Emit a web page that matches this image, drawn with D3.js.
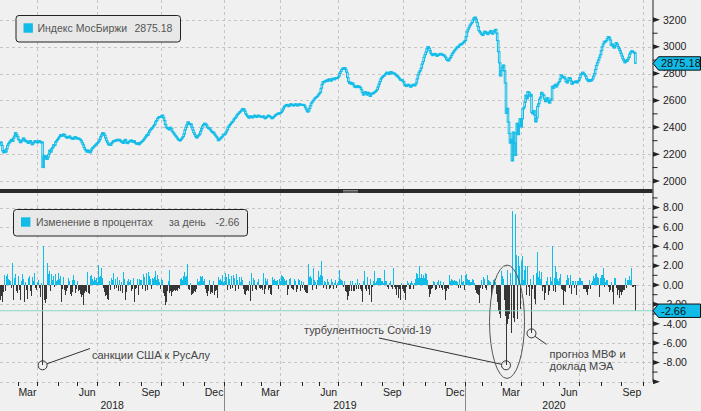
<!DOCTYPE html>
<html><head><meta charset="utf-8">
<script src="https://cdn.jsdelivr.net/npm/d3@7"></script>
<style>html,body{margin:0;padding:0;background:#f0f0f0;}svg{display:block;font-family:"Liberation Sans",Arial,sans-serif;}</style>
</head><body><svg id="chart" width="701" height="411"></svg>
<script>
// ---------- DATA ----------
const monthKeys = ["2018-02","2018-03","2018-04","2018-05","2018-06","2018-07","2018-08","2018-09","2018-10","2018-11","2018-12",
"2019-01","2019-02","2019-03","2019-04","2019-05","2019-06","2019-07","2019-08","2019-09","2019-10","2019-11","2019-12",
"2020-01","2020-02","2020-03","2020-04","2020-05","2020-06","2020-07","2020-08","2020-09"];
const tradingDays = [18,20,21,20,20,22,23,20,23,21,21, 17,20,20,22,18,19,23,22,21,23,20,21, 17,19,21,22,17,20,22,21,22];
const monthNames = ["Jan","Feb","Mar","Apr","May","Jun","Jul","Aug","Sep","Oct","Nov","Dec"];
const labelledMonths = [3,6,9,12];

const close2018 = [
2290,2265,2225,2210,2230,2215,2240,2265,2280,2290,2300,2310,2295,2320,2335,2360,2345,2330,
2310,2300,2285,2295,2305,2320,2310,2295,2300,2290,2280,2295,2300,2285,2270,2285,2290,2300,2295,2285,
2290,2300,2295,2285,2290,2100,2185,2170,2190,2160,2175,2200,2230,2215,2240,2250,2270,2265,2290,2300,2310,
2320,2330,2345,2340,2335,2350,2345,2330,2325,2320,2330,2335,2325,2315,2320,2310,2325,2330,2320,2315,
2320,2315,2310,2300,2285,2270,2250,2235,2225,2215,2230,2220,2210,2225,2240,2250,2255,2265,2270,2280,
2285,2295,2310,2330,2345,2360,2355,2340,2320,2300,2285,2270,2275,2265,2280,2290,2300,2295,2305,2300,2310,2300,
2310,2300,2290,2295,2280,2300,2310,2290,2280,2285,2295,2300,2305,2295,2290,2300,2285,2280,2275,2285,2270,2280,2290,
2295,2300,2310,2320,2330,2345,2340,2360,2375,2385,2390,2400,2410,2420,2440,2450,2465,2475,2480,2475,
2485,2490,2470,2450,2420,2400,2390,2395,2380,2400,2390,2370,2360,2350,2340,2330,2320,2310,2305,2300,2310,2320,2330,
2350,2380,2400,2420,2440,2430,2420,2425,2400,2380,2360,2345,2330,2320,2335,2340,2350,2370,2390,2410,2420,
2430,2425,2415,2400,2390,2395,2380,2370,2360,2365,2350,2340,2330,2320,2300,2310,2315,2325,2330,2345,2350];
const close2019 = [
2350,2365,2380,2400,2410,2420,2430,2440,2445,2460,2470,2475,2490,2500,2505,2515,2520,
2530,2540,2535,2520,2500,2490,2480,2470,2475,2485,2480,2470,2480,2490,2485,2475,2480,2490,2485,2480,
2480,2475,2485,2470,2465,2475,2480,2490,2485,2480,2470,2465,2475,2480,2490,2495,2500,2505,2500,2510,
2510,2520,2535,2550,2560,2565,2570,2560,2555,2565,2575,2570,2565,2560,2570,2575,2565,2560,2570,2575,2565,2570,
2565,2570,2560,2545,2530,2515,2520,2540,2560,2580,2590,2600,2610,2620,2625,2630,2640,2650,
2660,2690,2720,2740,2735,2745,2750,2740,2755,2760,2750,2745,2760,2765,2755,2760,2770,2765,2770,
2780,2800,2815,2830,2840,2835,2845,2830,2810,2770,2740,2725,2735,2720,2730,2715,2700,2705,2695,2710,2700,2705,2695,
2680,2660,2640,2650,2665,2655,2640,2660,2650,2630,2645,2655,2650,2660,2665,2670,2680,2700,2720,2740,2760,2770,
2780,2785,2790,2800,2810,2805,2795,2800,2815,2810,2800,2805,2800,2790,2785,2780,2770,2760,2750,2755,2745,
2740,2720,2710,2705,2715,2720,2710,2700,2705,2715,2720,2710,2715,2730,2760,2790,2810,2820,2840,2870,2890,2920,2940,
2960,2985,3000,2990,2970,2950,2940,2935,2945,2950,2940,2930,2935,2945,2940,2950,2945,2935,2940,2930,
2920,2905,2900,2895,2910,2920,2935,2950,2960,2970,2980,2990,3000,2995,3010,3020,3015,3025,3030,3040,3046];
const close2020 = [
3075,3110,3130,3145,3160,3170,3180,3200,3215,3220,3205,3180,3150,3120,3110,3100,3090,
3085,3100,3115,3110,3100,3090,3105,3110,3120,3100,3095,3110,3120,3129,3101,3045,2963,2880,2782,
2821,2846,2863,2820,2730,2503,2541,2439,2354,2283,2310,2150,2364,2284,2190,2357,2430,2345,2415,2464,2402,
2462,2536,2549,2587,2639,2612,2665,2660,2630,2645,2510,2500,2525,2490,2440,2470,2555,2575,2610,2625,2660,2645,
2640,2610,2590,2600,2620,2595,2580,2600,2610,2705,2690,2710,2720,2700,2715,2730,2740,
2760,2790,2780,2770,2775,2760,2740,2730,2750,2770,2765,2745,2720,2730,2740,2735,2745,2730,2740,2750,
2770,2790,2800,2810,2800,2790,2780,2760,2750,2740,2755,2745,2750,2760,2780,2800,2830,2860,2880,2900,2920,2940,
2970,3000,3020,3040,3035,3045,3060,3075,3070,3050,3010,3020,3000,2990,3010,3030,3020,3000,2985,2970,2950,
2930,2910,2895,2880,2900,2890,2905,2920,2945,2960,2970,2965,2958,2954,2875.18];

const change2018 = [
-1.6,-1.1,-1.8,-0.7,1.0,-0.6,0.9,1.1,0.6,0.5,0.4,-0.3,2.3,-1.5,0.7,1.1,-0.6,-0.8,
0.9,-0.5,-1.5,0.4,1.1,0.6,-0.4,-1.8,0.3,-0.5,-1.4,0.7,0.9,-0.6,-1.1,0.8,0.4,1.2,-0.3,-0.5,
0.3,0.5,-0.3,-1.2,0.2,-8.3,4.0,-1.6,-1.9,-1.4,2.3,1.1,1.4,-0.6,1.1,0.5,0.9,-0.2,1.1,0.4,0.5,
1.2,0.6,0.9,-1.8,-0.4,0.8,-0.5,-1.0,-0.6,-0.3,0.7,0.4,-0.9,-1.1,0.5,-0.7,1.0,0.5,-0.8,-0.4,
0.4,-0.6,-0.5,-0.9,-1.2,-1.0,-2.1,-0.8,-0.6,-0.7,1.3,-0.8,-0.9,0.9,1.0,0.6,0.4,0.8,0.5,0.7,
0.3,2.1,0.8,0.9,1.8,0.7,-0.3,-0.7,-1.1,-1.0,-1.4,-1.6,0.4,-0.5,0.7,0.5,1.2,-0.4,0.6,-0.3,0.8,-0.6,
0.5,-0.5,-0.6,0.3,-0.8,1.3,0.6,-1.5,-0.7,0.4,0.6,0.3,0.5,-0.6,-0.4,0.7,-1.8,-0.4,-0.3,0.6,-1.0,0.6,0.5,
0.5,-0.4,1.1,0.8,-0.6,1.2,-0.5,1.3,0.9,0.6,-0.4,0.7,0.6,0.8,1.4,0.5,1.0,0.6,0.3,-0.4,
0.6,0.5,-0.8,-1.1,-2.1,-1.8,-0.6,0.4,-0.8,1.5,-0.6,-1.1,-0.7,-0.6,-0.5,-0.6,-0.5,-0.6,-0.3,-0.4,0.6,0.7,0.5,
0.9,1.3,0.8,0.9,2.2,-0.4,-0.5,0.2,-1.0,-0.9,-0.8,-0.6,-0.7,-0.4,0.6,0.3,0.4,0.9,0.8,0.9,0.4,
0.6,-0.4,-0.8,-1.1,-0.6,0.5,-0.9,-0.7,-0.8,0.4,-1.0,-0.6,-0.5,-0.7,-1.3,0.8,0.5,0.6,0.4,1.0,0.3];
const change2019 = [
0.4,1.2,0.8,-0.5,1.1,0.6,-0.4,0.9,-0.3,1.0,0.7,-0.6,1.1,0.5,-0.4,0.8,0.3,
0.8,0.5,-0.4,-0.9,-1.0,-0.6,-0.5,-0.6,0.4,-1.7,1.2,-0.6,0.7,0.5,-0.4,-0.5,0.3,0.6,-0.3,-0.4,
-0.3,-0.5,1.2,-0.9,-0.4,0.7,0.4,0.6,-0.5,-0.3,-0.9,-1.0,0.8,0.5,0.6,0.4,0.4,0.5,-0.4,0.6,
0.4,1.0,0.9,0.8,0.6,0.4,0.5,-1.0,-0.4,0.6,0.7,-0.3,-0.4,-0.5,0.6,0.4,-0.7,-0.4,0.6,0.5,-0.6,0.4,
-0.3,0.3,-0.5,-0.7,-0.8,-0.8,2.2,0.8,0.9,0.7,-0.5,1.8,0.4,0.5,0.3,-0.4,0.5,1.4,
0.8,1.0,2.5,0.9,-0.3,0.4,0.3,-0.4,0.6,0.3,-0.4,-0.3,0.6,0.3,-0.4,0.2,0.5,-0.3,0.2,
0.4,1.5,0.6,0.5,0.4,-0.2,0.4,-0.6,-0.7,-1.5,-1.1,-0.6,0.4,-0.6,0.4,-0.6,-0.6,0.2,-0.4,0.6,-0.4,0.2,-0.4,
-0.6,-0.8,-1.8,0.4,1.4,-0.4,-0.6,0.8,-0.4,-1.0,0.6,-1.8,-0.2,0.4,1.4,0.2,0.4,0.7,0.7,0.7,0.7,0.4,
0.4,0.2,1.5,0.4,0.4,-0.2,-0.4,0.2,0.4,-0.2,-0.4,1.8,-0.2,-0.4,-1.0,-0.2,-1.3,-0.4,-1.6,0.2,-0.4,
-0.6,-0.8,-1.6,-0.2,0.4,0.2,-0.4,-0.4,0.2,0.4,0.2,-0.4,0.2,0.6,1.2,1.1,0.7,2.0,0.7,1.1,0.7,1.0,0.7,
1.2,1.1,0.5,-0.4,-1.2,-0.9,-0.4,-0.3,0.4,0.3,-0.5,-0.4,0.3,0.5,-0.3,0.4,-0.3,-0.5,0.3,-0.4,
-1.5,-0.6,-0.3,-0.4,1.0,0.4,0.6,0.5,0.4,0.5,0.4,0.4,0.3,-0.3,0.6,0.4,-0.3,1.0,0.3,0.4,-0.5];
const change2020 = [
1.0,1.1,0.6,0.5,0.5,0.3,0.3,0.6,0.5,0.2,-0.5,-0.8,-0.9,-1.0,-1.9,-0.3,0.5,
-0.4,0.8,0.6,-0.3,-0.5,1.0,0.5,0.4,0.3,-1.2,-0.4,0.5,0.6,0.3,-0.9,-1.8,-2.7,-3.0,-3.4,
1.4,0.9,0.6,-1.5,-3.2,-8.3,1.5,-4.0,-3.5,-3.0,1.2,-5.0,7.7,-3.4,-3.8,7.3,3.1,-3.5,3.0,2.0,-2.5,
2.5,3.0,0.5,1.5,2.0,-1.0,2.0,-0.2,-1.1,0.6,-5.0,-0.4,1.0,-1.4,-2.0,1.2,3.4,0.8,1.4,0.6,1.3,-0.6,
-0.2,-1.5,-0.8,0.4,0.8,-1.0,-0.6,0.8,0.4,4.0,-0.6,0.7,2.0,-0.7,1.3,0.6,0.4,
0.7,1.1,-0.4,-0.5,-2.1,-0.6,-0.7,0.5,1.0,0.7,-0.3,1.0,-0.9,0.4,0.4,-0.3,0.4,-1.0,0.4,0.4,
0.7,0.7,0.4,0.4,-0.4,-0.4,-0.4,-0.7,-1.0,-0.4,0.5,-0.4,0.2,0.4,0.9,0.7,1.1,1.2,0.8,0.7,-1.2,0.7,
1.0,1.0,1.8,0.7,-0.2,0.3,0.5,0.5,-0.2,-0.7,-0.5,0.3,-0.7,-2.0,0.7,0.7,-0.3,-1.0,-0.5,-1.3,-0.7,
-1.0,-0.7,-0.5,-0.5,0.7,-0.3,0.5,0.5,0.9,0.5,1.8,-0.2,-0.2,-0.1,-2.66];

const topTicks = [2000,2200,2400,2600,2800,3000,3200];
const topMinor = [2100,2300,2500,2700,2900,3100];
const botTicks = [-10,-8,-6,-4,-2,0,2,4,6,8];
const botLabels = [-8,-6,-4,-2,0,2,4,6,8];
const botMinor = [-9,-7,-5,-3,-1,1,3,5,7,9];

// ---------- CHART ----------
const cyan = "#12bce8", dark = "#363636", gridC = "#c5c5c5", axisC = "#222";
const fmt2 = v => v.toFixed(2);
const closes = [].concat(close2018, close2019, close2020);
const changes = [].concat(change2018, change2019, change2020);
const starts = []; let acc = 0;
tradingDays.forEach(n => { starts.push(acc); acc += n; });
const months = monthKeys.map((k, i) => ({ year: +k.slice(0, 4), m: +k.slice(5, 7), s: starts[i], e: starts[i] + tradingDays[i] }));

const plotR = 652.5;
const x = d3.scaleLinear().domain([0, 666]).range([0, plotR]);
const yT = d3.scaleLinear().domain([2000, 3200]).range([181, 19.8]);
const yB = d3.scaleLinear().domain([-8, 8]).range([362.4, 207.6]);
const svg = d3.select("#chart");
svg.append("rect").attr("width", 701).attr("height", 411).attr("fill", "#f0f0f0");

const px = v => Math.round(v) + 0.5;
// grid
const grid = svg.append("g").attr("stroke", gridC).attr("stroke-dasharray", "3,3").attr("stroke-width", 1);
topTicks.forEach(v => grid.append("line").attr("x1", 0).attr("x2", plotR).attr("y1", px(yT(v))).attr("y2", px(yT(v))));
botTicks.forEach(v => grid.append("line").attr("x1", 0).attr("x2", plotR).attr("y1", px(yB(v))).attr("y2", px(yB(v))));
const qIdx = months.filter(d => [1, 4, 7, 10].includes(d.m)).map(d => d.s).concat([acc]);
qIdx.forEach(i => {
  grid.append("line").attr("x1", px(x(i))).attr("x2", px(x(i))).attr("y1", 0).attr("y2", 189);
  grid.append("line").attr("x1", px(x(i))).attr("x2", px(x(i))).attr("y1", 193).attr("y2", 382);
});

// candles (open = previous close)
svg.append("g").selectAll("rect").data(closes).join("rect")
  .attr("x", (d, i) => x(i + 0.5) - 0.8).attr("width", 1.6)
  .attr("y", (d, i) => yT(Math.max(d, i ? closes[i - 1] : d)))
  .attr("height", (d, i) => Math.max(1, Math.abs(yT(d) - yT(i ? closes[i - 1] : d))))
  .attr("fill", "none").attr("stroke", cyan).attr("stroke-width", 1);

// bars
svg.append("g").attr("shape-rendering", "crispEdges").selectAll("rect").data(changes).join("rect")
  .attr("x", (d, i) => x(i + 0.5) - 0.5).attr("width", 1)
  .attr("y", d => yB(Math.max(d, 0))).attr("height", d => Math.abs(yB(d) - yB(0)))
  .attr("fill", d => d >= 0 ? cyan : dark);

const lastChange = changes[changes.length - 1];
const lastClose = closes[closes.length - 1];
svg.append("line").attr("x1", 0).attr("x2", plotR).attr("y1", yB(lastChange)).attr("y2", yB(lastChange))
  .attr("stroke", "#86d9c6").attr("stroke-width", 1.2);

// separator
svg.append("rect").attr("x", 0).attr("y", 189).attr("width", plotR).attr("height", 4).attr("fill", "#2a2a2a");
svg.append("line").attr("x1", 343).attr("x2", 358).attr("y1", 190.5).attr("y2", 190.5).attr("stroke", "#8a8a8a");
svg.append("line").attr("x1", 343).attr("x2", 358).attr("y1", 192).attr("y2", 192).attr("stroke", "#8a8a8a");

// right axis
svg.append("line").attr("x1", plotR + 0.5).attr("x2", plotR + 0.5).attr("y1", 0).attr("y2", 382).attr("stroke", axisC);
const tri = y => `M${plotR + 0.5},${y - 2.5}L${plotR + 7.5},${y}L${plotR + 0.5},${y + 2.5}Z`;
topTicks.forEach(v => svg.append("path").attr("d", tri(yT(v))).attr("fill", axisC));
topMinor.forEach(v => svg.append("line").attr("x1", plotR).attr("x2", plotR + 5).attr("y1", yT(v)).attr("y2", yT(v)).attr("stroke", axisC));
botTicks.forEach(v => svg.append("path").attr("d", tri(yB(v))).attr("fill", axisC));
botMinor.forEach(v => svg.append("line").attr("x1", plotR).attr("x2", plotR + 5).attr("y1", yB(v)).attr("y2", yB(v)).attr("stroke", axisC));
const lab = svg.append("g").attr("font-size", "10.5px").attr("fill", axisC);
topTicks.forEach(v => lab.append("text").attr("x", 663).attr("y", yT(v) + 3.8).text(v));
botLabels.forEach(v => lab.append("text").attr("x", 663).attr("y", yB(v) + 3.8).text(fmt2(v)));

function valueTag(yc, txt) {
  svg.append("path").attr("d", `M${plotR + 0.5},${yc}L${plotR + 6},${yc - 6.7}L700.5,${yc - 6.7}L700.5,${yc + 6.7}L${plotR + 6},${yc + 6.7}Z`)
    .attr("fill", cyan).attr("stroke", "#111").attr("stroke-width", 1);
  svg.append("text").attr("x", 661).attr("y", yc + 4).attr("font-size", "11px").attr("fill", "#111").text(txt);
}
valueTag(yT(lastClose), fmt2(lastClose));
valueTag(yB(lastChange), fmt2(lastChange));

// x axis
months.slice(1).map(d => d.s).concat([acc]).forEach(i =>
  svg.append("line").attr("x1", px(x(i))).attr("x2", px(x(i))).attr("y1", 382).attr("y2", 386).attr("stroke", axisC));
const xl = svg.append("g").attr("font-size", "10.5px").attr("fill", axisC).attr("text-anchor", "middle");
months.filter(d => labelledMonths.includes(d.m)).forEach(d =>
  xl.append("text").attr("x", (x(d.s) + x(d.e)) / 2).attr("y", 396).text(monthNames[d.m - 1]));
d3.groups(months, d => d.year).forEach(([yr, ms]) => {
  const a = Math.max(0, x(d3.min(ms, d => d.s))), b = Math.min(plotR, x(d3.max(ms, d => d.e)));
  xl.append("text").attr("x", (a + b) / 2).attr("y", 408.5).text(yr);
});
months.filter(d => d.m === 1).forEach(d =>
  svg.append("line").attr("x1", px(x(d.s))).attr("x2", px(x(d.s))).attr("y1", 386).attr("y2", 411).attr("stroke", "#8a8a8a"));

// legends
function legend(x0, y0, w, h, parts) {
  svg.append("rect").attr("x", x0 + 0.5).attr("y", y0 + 0.5).attr("width", w).attr("height", h).attr("rx", 3)
    .attr("fill", "#e8e8e8").attr("stroke", "#222");
  svg.append("rect").attr("x", x0 + 8).attr("y", y0 + 8.3).attr("width", 9.4).attr("height", 9.4).attr("fill", cyan);
  parts.forEach(p => svg.append("text").attr("x", p[0]).attr("y", y0 + 17.4).attr("font-size", "10.5px").attr("fill", "#555").text(p[1]));
}
legend(15.5, 15, 164.5, 26.5, [[37.5, "Индекс МосБиржи"], [134.5, fmt2(lastClose)]]);
legend(13, 209, 234, 26.5, [[36, "Изменение в процентах"], [169, "за день"], [215.5, fmt2(lastChange)]]);

// annotations
const ann = svg.append("g").attr("stroke", "#333").attr("fill", "none").attr("stroke-width", 1);
const n18 = change2018.length, n19 = change2019.length;
const iSanction = change2018.indexOf(d3.min(change2018));
const iCovid = n18 + n19 + change2020.indexOf(d3.min(change2020));
const iImf = n18 + n19 + change2020.indexOf(-5.0, 60);
const c1 = [x(iSanction + 0.5), yB(changes[iSanction])];
const c2 = [x(iCovid + 0.5), yB(changes[iCovid])];
const c3 = [x(iImf + 0.5), yB(changes[iImf])];
ann.append("circle").attr("cx", c1[0]).attr("cy", c1[1]).attr("r", 4.5);
ann.append("line").attr("x1", c1[0] + 4.3).attr("y1", c1[1] - 1.5).attr("x2", 90).attr("y2", 348.5);
ann.append("circle").attr("cx", c2[0]).attr("cy", c2[1]).attr("r", 4.5);
ann.append("line").attr("x1", 379).attr("y1", 338).attr("x2", c2[0] - 4.4).attr("y2", c2[1] - 1);
ann.append("ellipse").attr("cx", c2[0] + 1).attr("cy", yB(-3.8)).attr("rx", 17.5).attr("ry", 56.7).attr("stroke", "#555");
ann.append("circle").attr("cx", c3[0]).attr("cy", c3[1]).attr("r", 4.5);
ann.append("line").attr("x1", c3[0] + 3.5).attr("y1", c3[1] + 3).attr("x2", c3[0] + 15).attr("y2", c3[1] + 11);
const at = svg.append("g").attr("font-size", "11px").attr("fill", "#444");
at.append("text").attr("x", 92).attr("y", 358.5).text("санкции США к РусАлу");
at.append("text").attr("x", 304).attr("y", 333.5).text("турбулентность Covid-19");
at.append("text").attr("x", c3[0] + 18).attr("y", 357.7).text("прогноз МВФ и");
at.append("text").attr("x", c3[0] + 18).attr("y", 370.3).text("доклад МЭА");
</script></body></html>
